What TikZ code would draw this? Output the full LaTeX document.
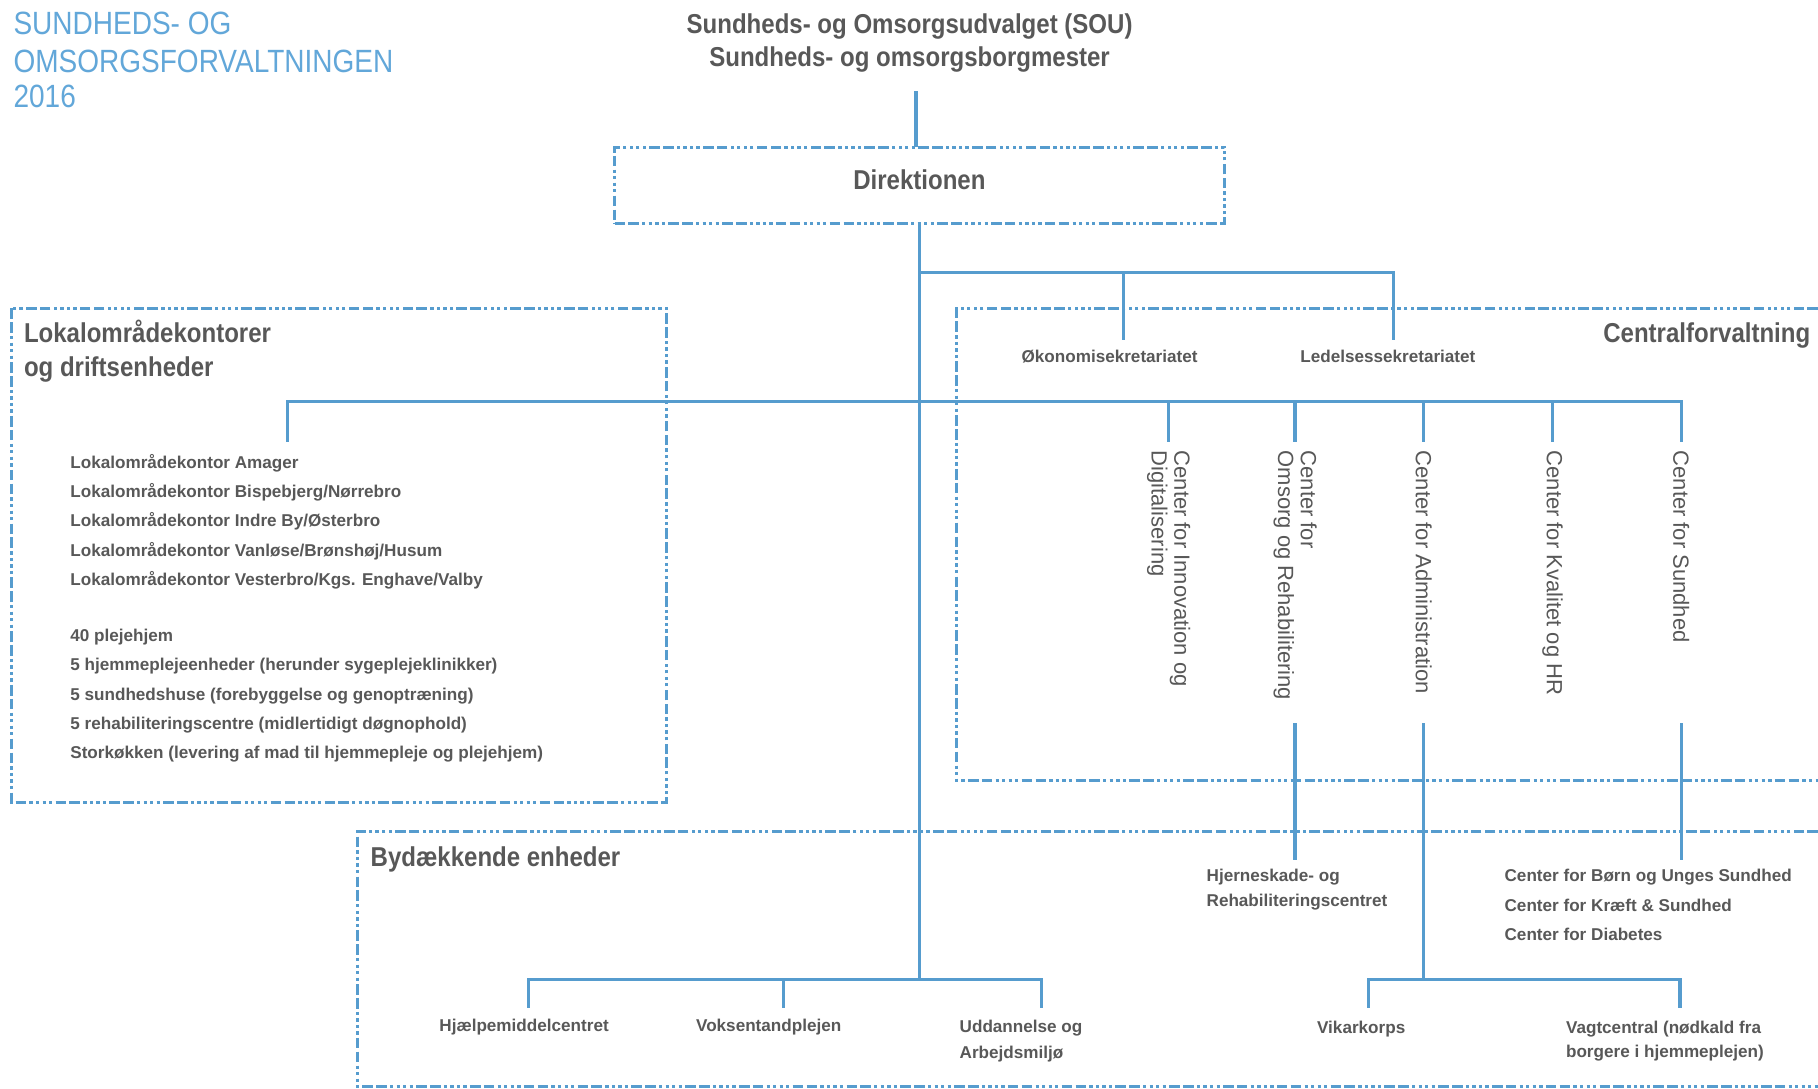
\documentclass[tikz,border=0pt]{standalone}
\usepackage{fontspec}
\setmainfont{Liberation Sans}
\newfontfamily\titlefont[FakeStretch=0.87]{Liberation Sans}
\newfontfamily\narrowfont[FakeStretch=0.88]{Liberation Sans}
\definecolor{sofblue}{RGB}{86,156,206}
\definecolor{softitle}{RGB}{98,167,217}
\definecolor{softext}{RGB}{88,88,88}
\tikzset{
  orgline/.style={draw=sofblue, line width=0.8pt, line cap=rect},
  unitframe/.style={draw=sofblue, line width=0.75pt, dash pattern=on 2.6pt off 0.8pt on 2.6pt off 0.8pt on 0.8pt off 0.8pt on 0.8pt off 0.8pt on 0.8pt off 0.8pt on 0.8pt off 0.8pt},
  toptitle/.style={text=softitle, inner sep=0pt, anchor=base west, font=\titlefont\fontsize{7.9}{9.5}\selectfont},
  headtext/.style={text=softext, inner sep=0pt, font=\narrowfont\bfseries\fontsize{6.7}{8.1}\selectfont},
  unitlabel/.style={text=softext, inner sep=0pt, font=\bfseries\fontsize{4.2}{7.2}\selectfont},
  centerlabel/.style={text=softext, inner xsep=0.08cm, inner ysep=0pt, rotate=-90, anchor=west, align=left, font=\fontsize{5.4}{5.6}\selectfont}
}
\begin{document}
\begin{tikzpicture}
\useasboundingbox[fill=white] (0,0) rectangle (15.68,-9.39);
% title
\node[toptitle] (title1) at (0.11,-0.295) {SUNDHEDS- OG};
\node[toptitle] (title2) at (0.11,-0.625) {OMSORGSFORVALTNINGEN};
\node[toptitle] (title3) at (0.11,-0.93) {2016};
% top of the organisation
\node[headtext, anchor=base] (sou1) at (7.845,-0.285) {Sundheds- og Omsorgsudvalget (SOU)};
\node[headtext, anchor=base] (sou2) at (7.845,-0.57) {Sundheds- og omsorgsborgmester};
\node[unitframe, headtext, minimum width=5.26cm, minimum height=0.66cm, text depth=0.1cm] (dir) at (7.93,-1.60) {Direktionen};

% frames
\draw[unitframe] (0.10,-2.66) rectangle (5.75,-6.92);
\draw[unitframe] (15.68,-2.66) -- (8.25,-2.66) -- (8.25,-6.73) -- (15.68,-6.73);
\draw[unitframe] (15.68,-7.17) -- (3.08,-7.17) -- (3.08,-9.37) -- (15.68,-9.37);
\node[headtext, anchor=base west] (lokhead1) at (0.20,-2.95) {Lokalområdekontorer};
\node[headtext, anchor=base west] (lokhead2) at (0.20,-3.25) {og driftsenheder};
\node[headtext, anchor=base east] (centhead) at (15.62,-2.95) {Centralforvaltning};
\node[headtext, anchor=base west] (bydhead) at (3.19,-7.47) {Bydækkende enheder};

% lokalomraader
\node[unitlabel, anchor=north west, align=left] (lokkontor) at (0.60,-3.91) {Lokalområdekontor Amager\\Lokalområdekontor Bispebjerg/Nørrebro\\Lokalområdekontor Indre By/Østerbro\\Lokalområdekontor Vanløse/Brønshøj/Husum\\Lokalområdekontor Vesterbro/Kgs. Enghave/Valby};
\node[unitlabel, anchor=north west, align=left] (drift) at (0.60,-5.42) {40 plejehjem\\5 hjemmeplejeenheder (herunder sygeplejeklinikker)\\5 sundhedshuse (forebyggelse og genoptræning)\\5 rehabiliteringscentre (midlertidigt døgnophold)\\Storkøkken (levering af mad til hjemmepleje og plejehjem)};

% sekretariater
\node[unitlabel, anchor=base] (oek) at (9.57,-3.13) {Økonomisekretariatet};
\node[unitlabel, anchor=base] (led) at (11.97,-3.13) {Ledelsessekretariatet};

% bydaekkende enheder
\node[unitlabel, anchor=north west, align=left, font=\bfseries\fontsize{4.2}{6}\selectfont] (hjerne) at (10.40,-7.49) {Hjerneskade- og\\Rehabiliteringscentret};
\node[unitlabel, anchor=north west, align=left, font=\bfseries\fontsize{4.2}{7.25}\selectfont] (sundcentre) at (12.97,-7.49) {Center for Børn og Unges Sundhed\\Center for Kræft \& Sundhed\\Center for Diabetes};
\node[unitlabel, anchor=base] (hjaelp) at (4.52,-8.90) {Hjælpemiddelcentret};
\node[unitlabel, anchor=base] (voksen) at (6.63,-8.90) {Voksentandplejen};
\node[unitlabel, anchor=north west, align=left, font=\bfseries\fontsize{4.2}{6.3}\selectfont] (uddan) at (8.27,-8.79) {Uddannelse og\\Arbejdsmiljø};
\node[unitlabel, anchor=base] (vikar) at (11.74,-8.91) {Vikarkorps};
\node[unitlabel, anchor=north west, align=left, font=\bfseries\fontsize{4.2}{6}\selectfont] (vagt) at (13.50,-8.80) {Vagtcentral (nødkald fra\\borgere i hjemmeplejen)};

% connectors
\coordinate (souend) at (7.90,-0.80);
\coordinate (secbar) at (7.93,-2.35);
\coordinate (cbl) at (2.48,-3.46);
\coordinate (cbr) at (14.50,-3.46);
\coordinate (trunk) at (7.93,-8.45);
\coordinate (cut) at (0,-6.25);
\coordinate (drop) at (0,-7.40);
\draw[orgline] (souend) -- (souend |- dir.north);
\draw[orgline] (dir.south) -- (trunk);
\draw[orgline] (secbar) -- (12.02,-2.35);
\foreach \x in {9.69,12.02} \draw[orgline] (\x,-2.35) -- ++(0,-0.57);
\draw[orgline] (cbl) -- (cbr);
\draw[orgline] (cbl) -- ++(0,-0.34);
\foreach \n/\x/\t in {innov/10.08/{Center for Innovation og\\Digitalisering}, omsorg/11.17/{Center for\\Omsorg og Rehabilitering}, admin/12.28/{Center for Administration}, kval/13.39/{Center for Kvalitet og HR}, sund/14.50/{Center for Sundhed}}{
  \node[centerlabel] (\n) at (\x,-3.80) {\t};
  \draw[orgline] (\n.west |- cbl) -- (\n.west);
}
\draw[orgline] (omsorg |- cut) -- (omsorg |- drop);
\draw[orgline] (sund |- cut) -- (sund |- drop);
\draw[orgline] (admin |- cut) -- (admin |- trunk);
\draw[orgline] (4.56,-8.45) -- (8.98,-8.45);
\draw[orgline] (11.80,-8.45) -- (14.49,-8.45);
\foreach \x in {4.56,6.76,8.98,11.80,14.49} \draw[orgline] (\x,-8.45) -- ++(0,-0.23);
\end{tikzpicture}
\end{document}
